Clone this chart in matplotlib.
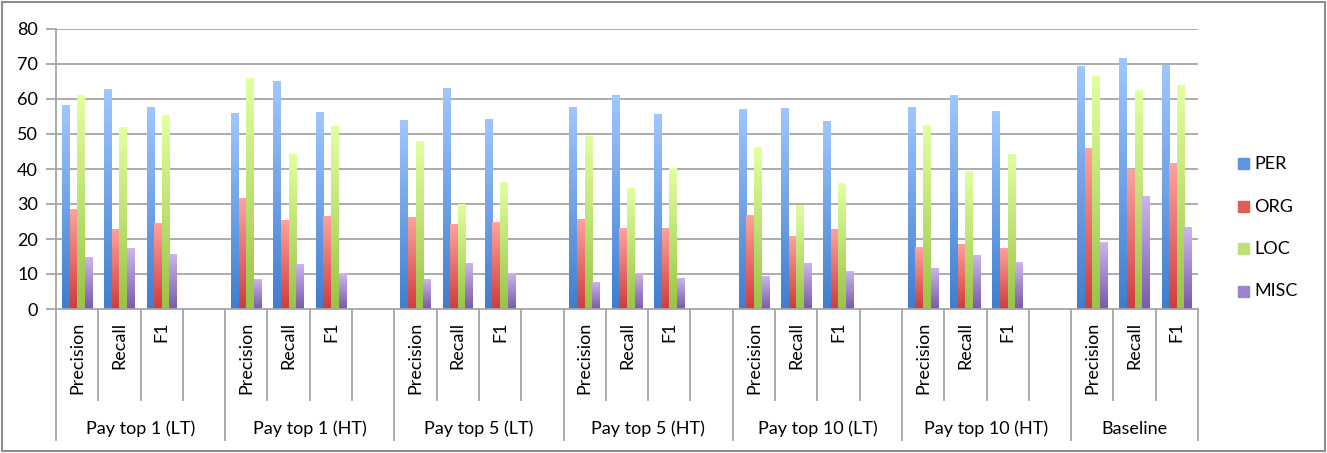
import numpy as np
import matplotlib
matplotlib.use("Agg")
import matplotlib.pyplot as plt
from matplotlib.colors import LinearSegmentedColormap
from matplotlib.patches import Rectangle
from matplotlib.transforms import blended_transform_factory

plt.rcParams['font.family'] = ['Lato', 'DejaVu Sans']

# ---------------- data ----------------
groups = ['Pay top 1 (LT)', 'Pay top 1 (HT)', 'Pay top 5 (LT)', 'Pay top 5 (HT)',
          'Pay top 10 (LT)', 'Pay top 10 (HT)', 'Baseline']
metrics = ['Precision', 'Recall', 'F1']
series = ['PER', 'ORG', 'LOC', 'MISC']

# each row: one group, values for Precision, Recall, F1
PER = [[58.2, 62.8, 57.6], [56.1, 65.0, 56.4], [54.0, 63.0, 54.3], [57.8, 61.2, 55.6],
       [57.2, 57.5, 53.7], [57.7, 61.2, 56.5], [69.4, 71.6, 69.6]]
ORG = [[28.6, 23.0, 24.7], [31.6, 25.5, 26.7], [26.3, 24.4, 24.8], [25.8, 23.1, 23.2],
       [26.9, 21.0, 22.9], [17.7, 18.7, 17.5], [46.1, 39.9, 41.8]]
LOC = [[61.0, 51.9, 55.3], [65.9, 44.3, 52.2], [48.0, 30.0, 36.4], [49.5, 34.6, 40.2],
       [46.2, 29.8, 35.9], [52.7, 39.3, 44.3], [66.5, 62.7, 63.9]]
MISC = [[14.9, 17.3, 15.8], [8.6, 13.0, 10.2], [8.7, 13.2, 10.4], [7.8, 10.3, 9.0],
        [9.4, 13.2, 11.0], [11.8, 15.3, 13.3], [19.2, 32.2, 23.3]]

values = [PER, ORG, LOC, MISC]

# gradient colours (bottom, top) per series
grad = [('#3f7ecf', '#a0c6ff'),
        ('#d03c3c', '#ffa29c'),
        ('#99c446', '#e2ffa0'),
        ('#7a5aab', '#ccb6ec')]
legend_col = ['#5f96e0', '#e05c5a', '#bde07a', '#9d82cc']

# ---------------- figure ----------------
W, H = 1327, 453
fig = plt.figure(figsize=(W / 100, H / 100), dpi=100)
ax = fig.add_axes([56 / W, (H - 309) / H, (1198 - 56) / W, 280 / H])

nslots = 4 * (len(groups) - 1) + 3
bw = 0.18
offs = (np.arange(4) - 1.5) * bw
gcol = '#a6a6a6'

# gridlines
for v in range(10, 81, 10):
    ax.axhline(v, color=gcol, lw=1.3, zorder=0)

grad_img = np.linspace(0, 1, 64).reshape(-1, 1)
for si, name in enumerate(series):
    cmap = LinearSegmentedColormap.from_list(name, grad[si])
    xs, hs = [], []
    for g in range(len(groups)):
        for m in range(3):
            xs.append(g * 4 + m + offs[si])
            hs.append(values[si][g][m])
    bars = ax.bar(xs, hs, width=bw, color='none', edgecolor='none', zorder=2)
    for r in bars:
        x0, w, h = r.get_x(), r.get_width(), r.get_height()
        im = ax.imshow(grad_img, extent=[x0, x0 + w, 0, h], origin='lower',
                       aspect='auto', cmap=cmap, zorder=2, interpolation='bilinear')
        im.set_clip_path(r)

ax.set_xlim(-0.5, nslots - 0.5)
ax.set_ylim(0, 80)
ax.set_yticks(range(0, 81, 10))
ax.tick_params(axis='y', length=7, color=gcol, width=1.3, labelsize=13, pad=6)
ax.set_xticks([])
for sp in ['top', 'right']:
    ax.spines[sp].set_visible(False)
ax.spines['left'].set_color(gcol)
ax.spines['left'].set_linewidth(1.3)
ax.spines['bottom'].set_color(gcol)
ax.spines['bottom'].set_linewidth(1.3)

# category axis (two levels)
tr = blended_transform_factory(ax.transData, ax.transAxes)
y_inner = -91 / 280
y_outer = -131 / 280
for g, gname in enumerate(groups):
    start = g * 4
    nsub = 4 if g < len(groups) - 1 else 3
    ax.plot([start - 0.5, start - 0.5], [0, y_outer], transform=tr, color=gcol,
            lw=1.3, clip_on=False)
    for k in range(1, nsub):
        ax.plot([start + k - 0.5] * 2, [0, y_inner], transform=tr, color=gcol,
                lw=1.3, clip_on=False)
    for m, mname in enumerate(metrics):
        ax.text(start + m, -13 / 280, mname, transform=tr, rotation=90,
                ha='center', va='top', fontsize=13)
    ax.text(start + (nsub - 1) / 2, -120 / 280, gname, transform=tr,
            ha='center', va='center', fontsize=13)
ax.plot([nslots - 0.5] * 2, [0, y_outer], transform=tr, color=gcol, lw=1.3,
        clip_on=False)

# legend
for i, name in enumerate(series):
    yc = 1 - (164 + i * 42.5) / H
    fig.patches.append(Rectangle((1238 / W, yc - 5 / H), 11 / W, 11 / H,
                                 transform=fig.transFigure, color=legend_col[i]))
    fig.text(1254 / W, yc, name, ha='left', va='center', fontsize=13)

# outer border
fig.patches.append(Rectangle((2 / W, 2 / H), (W - 4) / W, (H - 4) / H,
                             transform=fig.transFigure, fill=False,
                             edgecolor='#8c8c8c', lw=1.5))

fig.savefig('out.png', dpi=100)
